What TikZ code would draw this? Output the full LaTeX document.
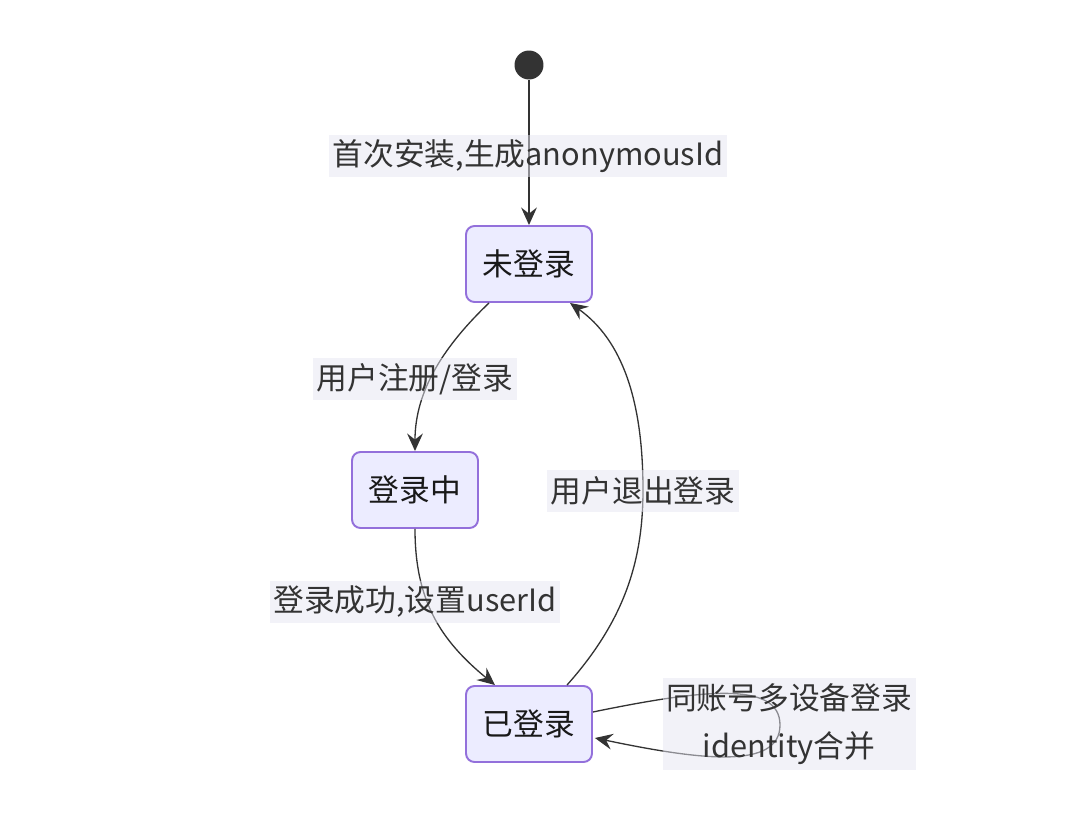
\documentclass[tikz,border=0pt]{standalone}
\usepackage{fontspec}
\setmainfont{Noto Sans CJK SC}
\usetikzlibrary{arrows.meta,positioning,calc}
\definecolor{statefill}{HTML}{ECECFF}
\definecolor{stateline}{HTML}{9370DB}
\definecolor{edgeline}{HTML}{333333}
\definecolor{labelfill}{HTML}{E6E6F2}

\begin{document}
\begin{tikzpicture}
		[x=0.02cm,y=-0.02cm,
			font=\fontsize{17.5}{27}\selectfont,
			state/.style={draw=stateline,fill=statefill,line width=1.1pt,rounded corners=0.17cm,
				minimum width=2.52cm,minimum height=1.52cm,text=black!90},
			startdot/.style={circle,fill=edgeline,minimum size=0.58cm,inner sep=0pt},
			trans/.style={draw=edgeline,line width=0.75pt,-{Stealth[length=10pt,width=9pt,inset=3.5pt]}},
			edgelabel/.style={fill=labelfill,fill opacity=0.5,text opacity=1,text=edgeline,
				inner xsep=2pt,inner ysep=0pt,minimum height=0.84cm,align=center}]
		\useasboundingbox (0,0) rectangle (1080,835);
		\node[startdot] (init) at (529,65) {};
		\node[state] (notlogged) at (529,264) {未登录};
		\node[state] (logging) at (415,490) {登录中};
		\node[state] (logged) at (529,724) {已登录};

		\draw[trans] (init) -- (notlogged);
		\draw[trans] ($(notlogged.south)+(-40,0)$) .. controls (445,345) and (415,390) .. (logging.north);
		\draw[trans] (logging.south) .. controls (415,600) and (440,640) .. ($(logged.north)+(-34,0)$);
		\draw[trans] ($(logged.north)+(38,0)$) .. controls (625,620) and (643,560) .. (643,490)
			.. controls (643,400) and (622,340) .. ($(notlogged.south)+(41,0)$);
		\draw[trans] ($(logged.east)+(0,-12)$) .. controls (700,690) and (780,680) .. (780,725)
			.. controls (780,770) and (700,760) .. ($(logged.east)+(2,14)$);

		\node[edgelabel] (lblinstall) at (528,156) {首次安装,生成anonymousId};
		\node[edgelabel] (lblregister) at (415,379) {用户注册/登录};
		\node[edgelabel] (lbllogout) at (643,491) {用户退出登录};
		\node[edgelabel] (lblsuccess) at (415,602) {登录成功,设置userId};
		\node[edgelabel,minimum height=1.84cm] (lblmerge) at (789,724) {同账号多设备登录\\identity合并};
	\end{tikzpicture}
\end{document}
